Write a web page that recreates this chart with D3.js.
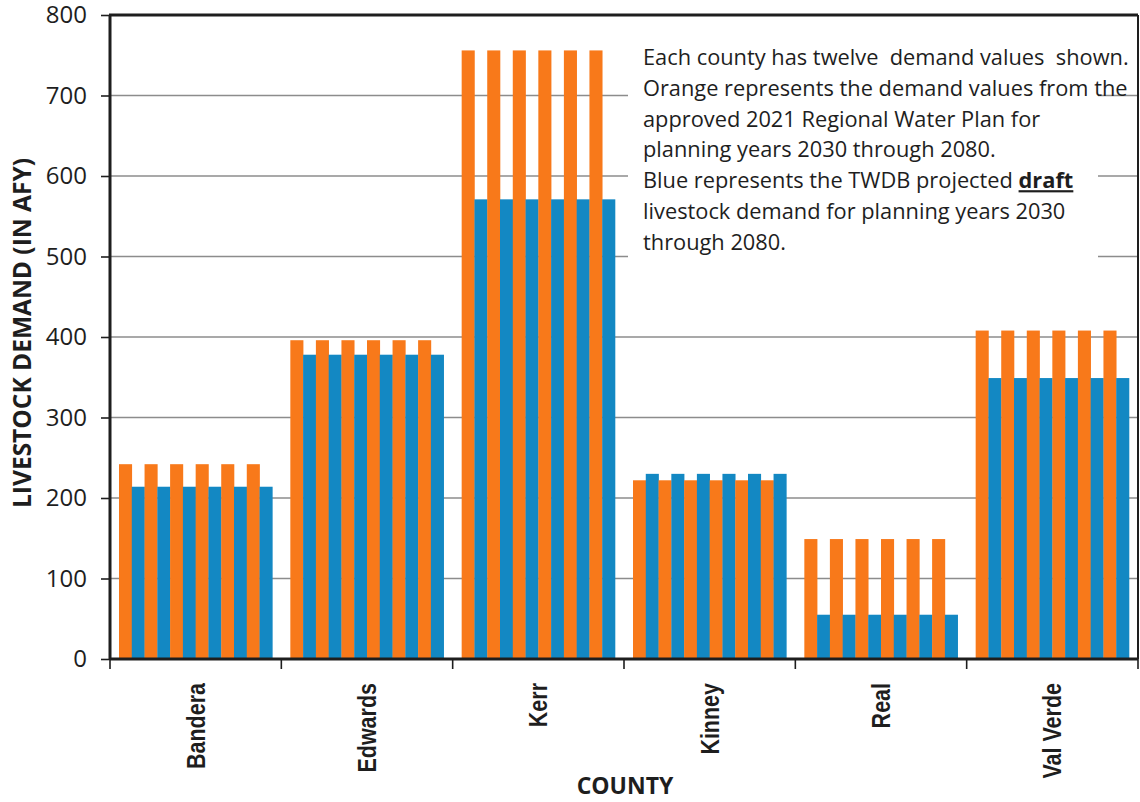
<!DOCTYPE html>
<html>
<head>
<meta charset="utf-8">
<script src="https://cdn.jsdelivr.net/npm/d3@7"></script>
<style>
  html, body { margin: 0; padding: 0; background: #fff; }
  svg { display: block; }
</style>
</head>
<body>
<svg id="chart" width="1140" height="802"></svg>
<script>
// Livestock demand by county, 2021 Regional Water Plan vs. TWDB draft projections
const counties = ["Bandera", "Edwards", "Kerr", "Kinney", "Real", "Val Verde"];
const years = [2030, 2040, 2050, 2060, 2070, 2080];

// 2021 Regional Water Plan demand (AFY), one row per county, one value per planning year
const planDemand = [
  [242, 242, 242, 242, 242, 242],
  [396, 396, 396, 396, 396, 396],
  [756, 756, 756, 756, 756, 756],
  [222, 222, 222, 222, 222, 222],
  [149, 149, 149, 149, 149, 149],
  [408, 408, 408, 408, 408, 408]
];

// TWDB projected draft demand (AFY)
const draftDemand = [
  [214, 214, 214, 214, 214, 214],
  [378, 378, 378, 378, 378, 378],
  [571, 571, 571, 571, 571, 571],
  [230, 230, 230, 230, 230, 230],
  [55, 55, 55, 55, 55, 55],
  [349, 349, 349, 349, 349, 349]
];

const yTicks = [0, 100, 200, 300, 400, 500, 600, 700, 800];

const noteLines = [
  [{ t: "Each county has twelve  demand values  shown." }],
  [{ t: "Orange represents the demand values from the" }],
  [{ t: "approved 2021 Regional Water Plan for" }],
  [{ t: "planning years 2030 through 2080." }],
  [{ t: "Blue represents the TWDB projected " }, { t: "draft", bold: true }],
  [{ t: "livestock demand for planning years 2030" }],
  [{ t: "through 2080." }]
];

const ORANGE = "#f8791a";
const BLUE = "#1388c3";
const INK = "#1e1e1e";

const svg = d3.select("#chart");
const plotLeft = 110, plotRight = 1138, plotTop = 15, plotBottom = 659;

const y = d3.scaleLinear().domain([0, 800]).range([plotBottom, plotTop]);
const x0 = d3.scaleBand().domain(counties).range([plotLeft, plotRight]);

// twelve slots per county: plan / draft pairs for each planning year
const slots = years.flatMap(yr => [`plan-${yr}`, `draft-${yr}`]);
const x1 = d3.scaleBand().domain(slots).range([9, x0.bandwidth() - 9]);

const bars = [];
counties.forEach((c, ci) => {
  years.forEach((yr, yi) => {
    bars.push({ county: c, slot: `plan-${yr}`, value: planDemand[ci][yi], color: ORANGE });
    bars.push({ county: c, slot: `draft-${yr}`, value: draftDemand[ci][yi], color: BLUE });
  });
});

// gridlines
svg.append("g")
  .selectAll("line")
  .data(yTicks.filter(v => v > 0 && v < 800))
  .join("line")
  .attr("x1", plotLeft).attr("x2", plotRight)
  .attr("y1", d => y(d)).attr("y2", d => y(d))
  .attr("stroke", "#8c8c8c")
  .attr("stroke-width", 1.3);

// note box background hides the gridlines behind the text
svg.append("rect")
  .attr("x", 628).attr("y", 30)
  .attr("width", 470).attr("height", 236)
  .attr("fill", "#fff");

// bars
svg.append("g")
  .selectAll("rect")
  .data(bars)
  .join("rect")
  .attr("x", d => x0(d.county) + x1(d.slot))
  .attr("width", x1.bandwidth() + 0.3)
  .attr("y", d => y(d.value))
  .attr("height", d => y(0) - y(d.value))
  .attr("fill", d => d.color);

// y axis
const yAxis = svg.append("g")
  .attr("transform", `translate(${plotLeft},0)`)
  .call(d3.axisLeft(y).tickValues(yTicks).tickSize(9).tickPadding(14).tickFormat(d3.format("d")));
yAxis.select(".domain").remove();
yAxis.selectAll(".tick line").attr("stroke", INK).attr("stroke-width", 1.6);
yAxis.selectAll(".tick text")
  .attr("fill", INK)
  .style("font-family", "'Open Sans', sans-serif")
  .style("font-size", "24px");

// x axis
const xAxis = svg.append("g")
  .attr("transform", `translate(0,${plotBottom})`);
xAxis.selectAll("line")
  .data(d3.range(counties.length + 1))
  .join("line")
  .attr("x1", i => plotLeft + i * x0.bandwidth())
  .attr("x2", i => plotLeft + i * x0.bandwidth())
  .attr("y1", 0).attr("y2", 10)
  .attr("stroke", INK).attr("stroke-width", 1.6);
// county names: tall, slightly condensed bold lettering
xAxis.selectAll("text")
  .data(counties)
  .join("text")
  .attr("transform", d => `translate(${x0(d) + x0.bandwidth() / 2},${683 - plotBottom}) rotate(-90) scale(0.86,1)`)
  .attr("text-anchor", "end")
  .attr("dy", "0.36em")
  .attr("fill", INK)
  .style("font-family", "'Liberation Sans', Arial, sans-serif")
  .style("font-weight", "bold")
  .style("font-size", "25px")
  .text(d => d);

// frame
svg.append("line").attr("x1", plotLeft - 1).attr("x2", plotRight).attr("y1", plotTop).attr("y2", plotTop)
  .attr("stroke", INK).attr("stroke-width", 3);
svg.append("line").attr("x1", plotLeft).attr("x2", plotLeft).attr("y1", plotTop).attr("y2", plotBottom + 1)
  .attr("stroke", INK).attr("stroke-width", 3);
svg.append("line").attr("x1", plotLeft).attr("x2", plotRight).attr("y1", plotBottom).attr("y2", plotBottom)
  .attr("stroke", INK).attr("stroke-width", 3);
svg.append("line").attr("x1", plotRight).attr("x2", plotRight).attr("y1", plotTop).attr("y2", plotBottom)
  .attr("stroke", INK).attr("stroke-width", 2);

// axis titles
svg.append("text")
  .attr("transform", "translate(22,333) rotate(-90)")
  .attr("text-anchor", "middle")
  .attr("dy", "0.36em")
  .attr("fill", INK)
  .style("font-family", "'Open Sans', sans-serif")
  .style("font-weight", "bold")
  .style("font-size", "24.5px")
  .text("LIVESTOCK  DEMAND (IN AFY)");

svg.append("text")
  .attr("x", 625).attr("y", 794)
  .attr("text-anchor", "middle")
  .attr("fill", INK)
  .style("font-family", "'Open Sans', sans-serif")
  .style("font-weight", "bold")
  .style("font-size", "23px")
  .text("COUNTY");

// explanatory note
const note = svg.append("text")
  .attr("fill", INK)
  .style("font-family", "'Open Sans', sans-serif")
  .style("font-size", "21.8px")
  .style("white-space", "pre");
noteLines.forEach((parts, i) => {
  const line = note.append("tspan").attr("x", 643).attr("y", 65 + i * 30.8);
  parts.forEach(p => {
    line.append("tspan")
      .style("font-weight", p.bold ? "bold" : null)
      .style("text-decoration", p.bold ? "underline" : null)
      .text(p.t);
  });
});
</script>
</body>
</html>
